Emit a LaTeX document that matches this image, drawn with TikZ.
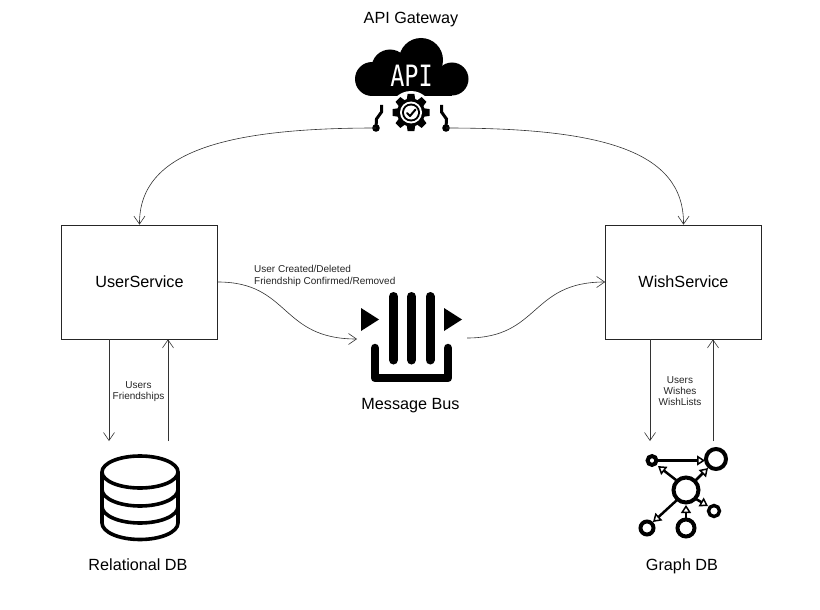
\documentclass[tikz,border=0pt]{standalone}
\usepackage{fontspec}
\setmainfont{Liberation Sans}
\newfontfamily\apifont{DejaVu Sans Mono}
\usetikzlibrary{arrows.meta,calc}
\tikzset{
  svc/.style={draw=black!85,line width=0.7pt,minimum width=156pt,minimum height=114pt,inner sep=0pt,font=\fontsize{16.2}{18}\selectfont},
  lbl/.style={font=\fontsize{16.2}{18}\selectfont,inner sep=0pt,anchor=base},
  small/.style={font=\fontsize{10}{11.3}\selectfont,inner sep=0pt,align=center,text=black!85},
  conn/.style={line width=0.6pt,draw=black!80},
  arr/.style={conn,-{Straight Barb[length=8pt,width=11pt,line width=0.6pt]}},
  ring/.style={draw=black,line width=4pt,fill=white},
  link/.style={line width=2.5pt,-{Triangle[open,length=8pt,width=10pt,line width=1.5pt,fill=white]}},
  dbline/.style={draw=black,line width=3.6pt,line cap=round,line join=round},
}
\begin{document}
\begin{tikzpicture}[x=1pt,y=-1pt]
\useasboundingbox (0,0) rectangle (820,610);
\fill[white] (0,0) rectangle (820,610);
% nodes
\node[svc] (user) at (139.5,282) {\raisebox{-0.5pt}{UserService}};
\node[svc] (wish) at (683.5,282) {\raisebox{-0.5pt}{WishService}};
\node[lbl] (apilabel) at (411,24) {API Gateway};
\node[lbl] (buslabel) at (410.5,409.5) {Message Bus};
\node[lbl] (rellabel) at (138,570) {Relational DB};
\node[lbl] (graphlabel) at (682,570) {Graph DB};
\node[small,align=left,anchor=north west] (evt) at (254,265.5) {User Created/Deleted\\Friendship Confirmed/Removed};
\node[small] (ufr) at (138.5,391.5) {Users\\Friendships};
\node[small] (uww) at (680,391) {Users\\Wishes\\WishLists};
% anchors for connectors
\coordinate (apiL) at (376,128);
\coordinate (apiR) at (446,128);
\coordinate (busIn) at (357,339);
\coordinate (busOut) at (467,338);
\coordinate (dbA) at (109,441);
\coordinate (dbB) at (168,441);
\coordinate (grA) at (650,441);
\coordinate (grB) at (713,441);
% API icon
\fill[black] (372,79) circle[radius=17];
\fill[black] (390,68) circle[radius=18.5];
\fill[black] (421,60) circle[radius=22];
\fill[black] (452,79) circle[radius=16.5];
\fill[black] (372,79) rectangle (452,96);
\fill[black] (400,60) rectangle (440,80);
\node[text=white,font=\apifont\fontsize{23.5}{23}\selectfont,inner sep=0pt,yscale=1.25,transform shape] (apitext) at (411.5,76) {API};
\fill[white] (411,112.5) circle[radius=21.5];
\fill[black] (411,112.5) circle[radius=14];
\foreach \a in {0,45,...,315}{
  \fill[black,shift={(411,112.5)},rotate=\a] (-4.5,-11) -- (-3.4,-18.5) -- (3.4,-18.5) -- (4.5,-11) -- cycle;
}
\fill[white] (411,112.5) circle[radius=11];
\fill[black] (411,112.5) circle[radius=9];
\fill[white] (411,112.5) circle[radius=7];
\draw[black,line width=2pt,line cap=round,line join=round] (407,113) -- (410,116) -- (415.5,109.5);
\draw[black,line width=3pt] (381.5,105) -- (381.5,112) -- (376.5,119) -- (apiL);
\draw[black,line width=3pt] (441.5,105) -- (441.5,112) -- (446.5,119) -- (apiR);
\fill[black] (apiL) circle[radius=3.8];
\fill[black] (apiR) circle[radius=3.8];
% Message bus icon
\foreach \x in {393.5,411.5,430}{\draw[black,line width=9pt,line cap=round] (\x,296.5) -- (\x,360);}
\draw[black,line width=8.5pt,line cap=round,line join=round] (375,348) -- (375,378) -- (448,378) -- (448,348);
\fill[black] (361,308) -- (379,319.5) -- (361,331) -- cycle;
\fill[black] (444,308) -- (462,319.5) -- (444,331) -- cycle;
% DB icon
\draw[dbline,fill=white] (102,472) -- (102,523) arc[start angle=180,end angle=0,x radius=38,y radius=16.5] -- (178,472);
\draw[dbline] (102,489.5) arc[start angle=180,end angle=0,x radius=38,y radius=16.5];
\draw[dbline] (102,506.5) arc[start angle=180,end angle=0,x radius=38,y radius=16.5];
\draw[dbline,fill=white] (140,472) ellipse[x radius=38,y radius=16];
% Graph icon
\draw[link] (657,460.5) -- (705,460.5);
\draw[link] (676,480) -- (658,466);
\draw[link] (695,481) -- (708,468);
\draw[link] (696,499) -- (708,506);
\draw[link] (686,519) -- (686,505);
\draw[link] (677,500) -- (653,522);
\draw[ring] (686,490) circle[radius=12.5];
\draw[ring] (716,459) circle[radius=10];
\draw[ring] (652,460.5) circle[radius=4.4];
\draw[ring,line width=3.4pt] (714,511) circle[radius=5.5];
\draw[ring] (686,528) circle[radius=8.5];
\draw[ring] (647,528) circle[radius=6.5];
% connectors
\draw[arr] (apiL) .. controls (230,128) and (139,150) .. (user.north);
\draw[arr] (apiR) .. controls (600,128) and (684,150) .. (wish.north);
\draw[arr] (user.east) .. controls (290,282) and (280,339) .. (busIn);
\draw[arr] (busOut) .. controls (540,338) and (530,282) .. (wish.west);
\draw[arr] (dbA |- user.south) -- (dbA);
\draw[arr] (dbB) -- (dbB |- user.south);
\draw[arr] (grA |- wish.south) -- (grA);
\draw[arr] (grB) -- (grB |- wish.south);
\end{tikzpicture}
\end{document}
